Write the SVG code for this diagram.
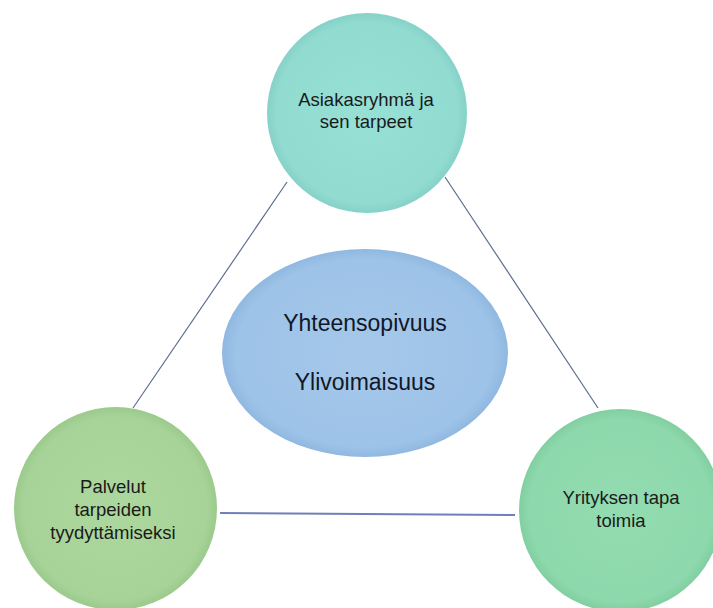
<svg xmlns="http://www.w3.org/2000/svg" width="713" height="608" viewBox="0 0 713 608">
  <defs>
    <radialGradient id="gTeal" cx="50%" cy="50%" r="50%">
      <stop offset="0%" stop-color="#97e0d6"/>
      <stop offset="90%" stop-color="#92dbd1"/>
      <stop offset="100%" stop-color="#86d2c8"/>
    </radialGradient>
    <radialGradient id="gGreen" cx="50%" cy="50%" r="50%">
      <stop offset="0%" stop-color="#acd79e"/>
      <stop offset="90%" stop-color="#a7d398"/>
      <stop offset="100%" stop-color="#9bca8c"/>
    </radialGradient>
    <radialGradient id="gMint" cx="50%" cy="50%" r="50%">
      <stop offset="0%" stop-color="#93dcb1"/>
      <stop offset="90%" stop-color="#8dd8ac"/>
      <stop offset="100%" stop-color="#81cfa1"/>
    </radialGradient>
    <radialGradient id="gBlue" cx="50%" cy="50%" r="50%">
      <stop offset="0%" stop-color="#a5c8ea"/>
      <stop offset="90%" stop-color="#9ec3e8"/>
      <stop offset="100%" stop-color="#90b8e0"/>
    </radialGradient>
  </defs>
  <style>
    .lbl { font-family: "Liberation Sans", Arial, sans-serif; fill: #1a1a1a; text-anchor: middle; }
    .small { font-size: 18.5px; }
    .big { font-size: 23px; fill: #101828; }
    .conn { stroke: #5d6e92; stroke-width: 1.2; fill: none; }
    .connB { stroke: #6f80b8; stroke-width: 2; fill: none; }
  </style>
  <rect width="713" height="608" fill="#ffffff"/>

  <g id="connectors">
    <line class="conn" x1="287" y1="182" x2="133" y2="408"/>
    <line class="conn" x1="445" y1="177" x2="598" y2="408"/>
    <line class="connB" x1="220" y1="513" x2="515" y2="515"/>
  </g>

  <g id="node-asiakasryhma">
    <circle cx="367" cy="113" r="100" fill="url(#gTeal)"/>
    <text class="lbl small" x="366" y="106">Asiakasryhmä ja</text>
    <text class="lbl small" x="366" y="128">sen tarpeet</text>
  </g>

  <g id="node-center">
    <ellipse cx="365" cy="353" rx="143" ry="104" fill="url(#gBlue)"/>
    <text class="lbl big" x="365" y="331">Yhteensopivuus</text>
    <text class="lbl big" x="365" y="390">Ylivoimaisuus</text>
  </g>

  <g id="node-palvelut">
    <circle cx="115.5" cy="508.5" r="101.5" fill="url(#gGreen)"/>
    <text class="lbl small" x="113" y="493">Palvelut</text>
    <text class="lbl small" x="113" y="516">tarpeiden</text>
    <text class="lbl small" x="113" y="539">tyydyttämiseksi</text>
  </g>

  <g id="node-yritys">
    <circle cx="620.5" cy="510.5" r="101.5" fill="url(#gMint)"/>
    <text class="lbl small" x="621" y="504">Yrityksen tapa</text>
    <text class="lbl small" x="621" y="527">toimia</text>
  </g>
</svg>
